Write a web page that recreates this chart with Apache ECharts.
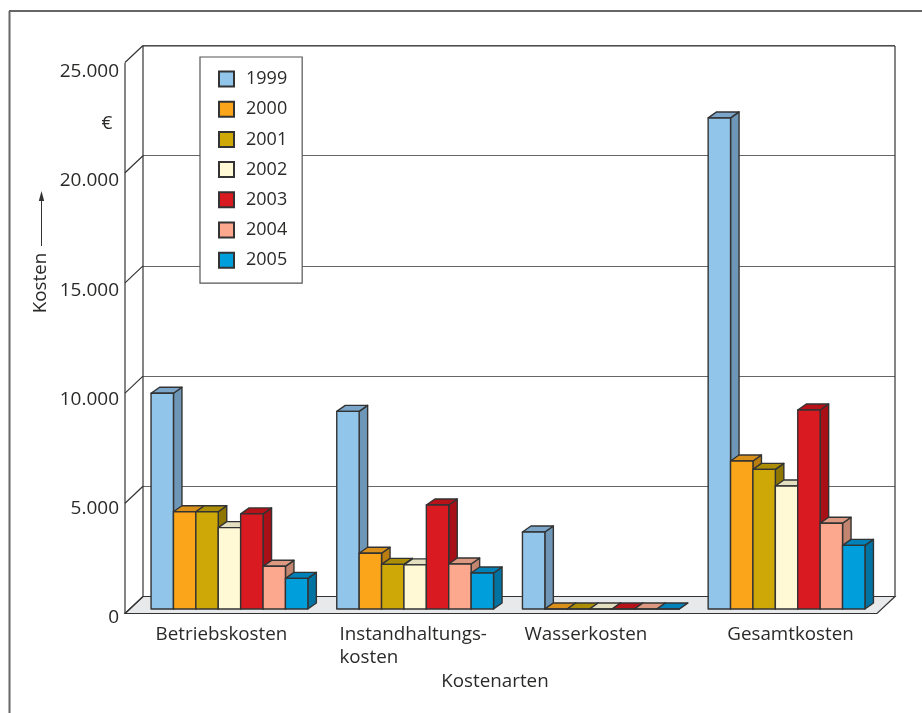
<!DOCTYPE html>
<html>
<head>
<meta charset="utf-8">
<script src="https://cdn.jsdelivr.net/npm/echarts@6/dist/echarts.min.js"></script>
<style>
  html, body { margin: 0; padding: 0; background: #fff; }
  #chart { width: 922px; height: 713px; }
</style>
</head>
<body>
<div id="chart"></div>
<script>
const categories = ['Betriebskosten', 'Instandhaltungs-\nkosten', 'Wasserkosten', 'Gesamtkosten'];
const years = ['1999', '2000', '2001', '2002', '2003', '2004', '2005'];
const yTicks = [0, 5000, 10000, 15000, 20000, 25000];

const v1999 = [9780, 8960, 3490, 22260];
const v2000 = [4410, 2525, 0, 6710];
const v2001 = [4410, 2025, 0, 6330];
const v2002 = [3690, 2000, 0, 5575];
const v2003 = [4310, 4715, 0, 9020];
const v2004 = [1935, 2040, 0, 3885];
const v2005 = [1390, 1630, 0, 2885];
const values = [v1999, v2000, v2001, v2002, v2003, v2004, v2005];

const frontColors = ['#92c5ea', '#fba61a', '#cea807', '#fff9d6', '#da1a21', '#fba88e', '#009fdc'];
const sideColors = ['#6e97b7', '#b97d10', '#8f7600', '#c9c5a8', '#a80f16', '#c2856f', '#0073a3'];
const topColors = ['#7ba6c9', '#d8901a', '#ab8d06', '#e3dfc0', '#b81219', '#dc9880', '#0082b8'];

const font = '"Open Sans", "Noto Sans", sans-serif';
const textColor = '#2b2a29';
const edge = '#333333';
const fontSize = 18.8;

// Tiefe der Saeulen
const barWidth = 22.4;
const barDx = 8.5;
const barDy = 6;

// Versatz der Kategorie-Beschriftung gegenueber der Gruppenmitte
const labelShift = [-8, -2, -15, 4];

const chart = echarts.init(document.getElementById('chart'));

function barSeries(index) {
  return {
    type: 'custom',
    name: years[index],
    xAxisIndex: 1,
    yAxisIndex: 1,
    z: 5,
    itemStyle: { color: frontColors[index], borderColor: edge, borderWidth: 1 },
    data: values[index].map((v, c) => [c, v]),
    encode: { x: 0, y: 1 },
    renderItem: function (params, api) {
      const base = api.coord([api.value(0), 0]);
      const top = api.coord([api.value(0), api.value(1)]);
      const x0 = base[0] + (index - 3.5) * barWidth;
      const x1 = x0 + barWidth;
      const y0 = base[1];
      const y1 = top[1];
      const stroke = { stroke: edge, lineWidth: 1.4, lineJoin: 'round' };
      return {
        type: 'group',
        children: [
          {
            type: 'polygon',
            shape: { points: [[x1, y1], [x1 + barDx, y1 - barDy], [x1 + barDx, y0 - barDy], [x1, y0]] },
            style: Object.assign({ fill: sideColors[index] }, stroke)
          },
          {
            type: 'polygon',
            shape: { points: [[x0, y1], [x0 + barDx, y1 - barDy], [x1 + barDx, y1 - barDy], [x1, y1]] },
            style: Object.assign({ fill: topColors[index] }, stroke)
          },
          {
            type: 'rect',
            shape: { x: x0, y: y1, width: barWidth, height: y0 - y1 },
            style: Object.assign({ fill: frontColors[index] }, stroke)
          }
        ]
      };
    }
  };
}

// Boden, linke Wand und Wandlinien haengen an der Rueckwand (grid 0)
const wallDx = 18;
const wallDy = 17;
const wallSeries = {
  type: 'custom',
  xAxisIndex: 0,
  yAxisIndex: 0,
  z: 1,
  silent: true,
  legendHoverLink: false,
  data: yTicks.map((t) => [0, t]),
  encode: { y: 1 },
  renderItem: function (params, api) {
    const sys = params.coordSys;
    const y = api.coord([0, api.value(1)])[1];
    const line = { stroke: edge, lineWidth: 1.2, fill: 'none' };
    const xL = sys.x;
    const xR = sys.x + sys.width;
    const yTop = sys.y + 0.5;
    const children = [{
      type: 'line',
      shape: { x1: xL, y1: y, x2: xL - wallDx, y2: y + wallDy },
      style: line
    }];
    if (api.value(1) === 0) {
      children.unshift({
        type: 'polygon',
        shape: { points: [[xL, y], [xR, y], [xR - wallDx, y + wallDy], [xL - wallDx, y + wallDy]] },
        style: { fill: '#e8e9eb', stroke: edge, lineWidth: 1.2 }
      });
      children.push(
        { type: 'line', shape: { x1: xL, y1: y, x2: xL, y2: yTop }, style: line },
        { type: 'line', shape: { x1: xR, y1: y, x2: xR, y2: yTop }, style: line },
        { type: 'line', shape: { x1: xL, y1: yTop, x2: xR, y2: yTop }, style: line },
        { type: 'line', shape: { x1: xL - wallDx, y1: y + wallDy, x2: xL - wallDx, y2: yTop + wallDy }, style: line }
      );
    }
    return { type: 'group', children: children };
  }
};

const richLabels = {};
labelShift.forEach((s, i) => {
  richLabels['c' + i] = {
    fontFamily: font,
    fontSize: fontSize,
    color: textColor,
    lineHeight: 23,
    align: 'left',
    padding: s < 0 ? [0, -2 * s, 0, 0] : [0, 0, 0, 2 * s]
  };
});

const option = {
  backgroundColor: '#ffffff',
  animation: false,
  textStyle: { fontFamily: font, color: textColor },
  grid: [
    { left: 143, top: 45.5, width: 752, height: 551 },
    { left: 136.6, top: 57.5, width: 742.8, height: 551.5 },
    { left: 119, top: 71.6, width: 100, height: 546.4 }
  ],
  legend: {
    orient: 'vertical',
    left: 200,
    top: 57,
    padding: [13, 15, 14, 18],
    itemWidth: 15,
    itemHeight: 15,
    itemGap: 12.2,
    icon: 'rect',
    selectedMode: false,
    backgroundColor: '#ffffff',
    borderColor: '#555555',
    borderWidth: 1.2,
    borderRadius: 0,
    textStyle: { fontFamily: font, fontSize: 18, lineHeight: 16, color: textColor, padding: [2, 0, 0, 7] },
    data: years
  },
  xAxis: [
    { gridIndex: 0, type: 'category', data: categories, show: false },
    {
      gridIndex: 1,
      type: 'category',
      data: categories,
      name: 'Kostenarten',
      nameLocation: 'middle',
      nameGap: 63,
      nameTextStyle: { fontFamily: font, fontSize: fontSize, color: textColor, padding: [0, 26, 0, 0] },
      axisLine: { show: false },
      axisTick: { show: false },
      axisLabel: {
        margin: 14,
        interval: 0,
        formatter: function (value, i) {
          return value.split('\n').map((s) => '{c' + i + '|' + s + '}').join('\n');
        },
        rich: richLabels
      }
    },
    { gridIndex: 2, type: 'category', data: categories, show: false }
  ],
  yAxis: [
    {
      gridIndex: 0, type: 'value', min: 0, max: 25000, interval: 5000,
      axisLabel: { show: false },
      axisLine: { show: false },
      axisTick: { show: false },
      splitLine: { show: true, lineStyle: { color: '#666666', width: 1.2 } }
    },
    { gridIndex: 1, type: 'value', min: 0, max: 25000, interval: 5000, show: false, splitLine: { show: false } },
    {
      gridIndex: 2, type: 'value', min: 0, max: 25000, interval: 5000,
      axisLine: { show: false },
      axisTick: { show: false },
      splitLine: { show: false },
      axisLabel: {
        margin: 0,
        align: 'right',
        fontFamily: font,
        fontSize: 19,
        color: textColor,
        formatter: (v) => v.toLocaleString('de-DE')
      }
    }
  ],
  graphic: [
    { type: 'line', shape: { x1: 9.5, y1: 11, x2: 9.5, y2: 713 }, style: { stroke: '#666666', lineWidth: 2 }, z: 0 },
    { type: 'line', shape: { x1: 9, y1: 11, x2: 922, y2: 11 }, style: { stroke: '#666666', lineWidth: 2 }, z: 0 },
    { type: 'text', x: 107, y: 124, style: { text: '€', fontFamily: font, fontSize: 19, fill: textColor, align: 'center', verticalAlign: 'middle' } },
    { type: 'text', x: 41, y: 283, rotation: Math.PI / 2, style: { text: 'Kosten', fontFamily: font, fontSize: fontSize, fill: textColor, align: 'center', verticalAlign: 'middle' } },
    { type: 'line', shape: { x1: 41.5, y1: 246, x2: 41.5, y2: 196 }, style: { stroke: '#333333', lineWidth: 1 } },
    { type: 'polygon', shape: { points: [[41.5, 191], [38.8, 201], [44.2, 201]] }, style: { fill: '#333333' } }
  ],
  series: [wallSeries].concat(years.map((y, i) => barSeries(i)))
};

chart.setOption(option);
</script>
</body>
</html>
